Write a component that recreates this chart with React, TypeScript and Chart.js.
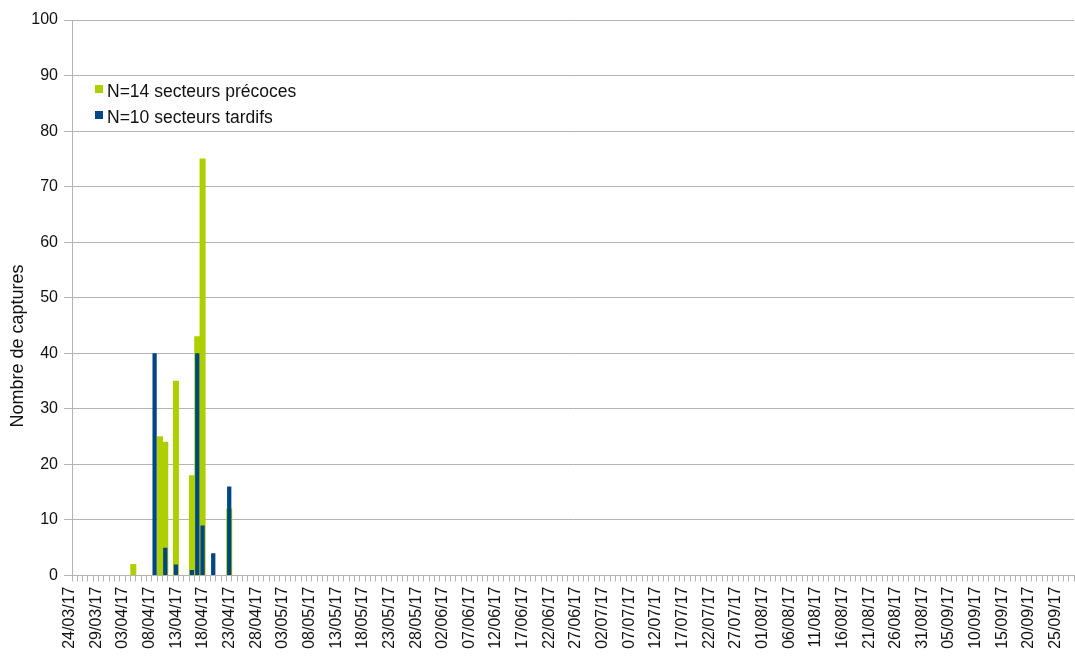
import React, { useEffect, useRef } from 'react';
import { Chart, registerables } from 'chart.js';

Chart.register(...registerables);

// ---- Data ----
const startDate = [2017, 3, 24]; // 24/03/17
const dayCount = 188; // 24/03/17 .. 27/09/17
const labelStep = 5;

const seriesNames = ['N=14 secteurs précoces', 'N=10 secteurs tardifs'];
const seriesColors = ['#aecf00', '#004586'];

const precocesDates = ['04/04/17', '09/04/17', '10/04/17', '12/04/17', '15/04/17', '16/04/17', '17/04/17', '22/04/17'];
const precocesValues = [2, 25, 24, 35, 18, 43, 75, 12];

const tardifsDates = ['08/04/17', '10/04/17', '12/04/17', '15/04/17', '16/04/17', '17/04/17', '19/04/17', '22/04/17'];
const tardifsValues = [40, 5, 2, 1, 40, 9, 4, 16];

const yMin = 0;
const yMax = 100;
const yStep = 10;
const yTitle = 'Nombre de captures';

// ---- Helpers ----
const pad2 = (n: number) => (n < 10 ? '0' + n : '' + n);
function buildCategories(): string[] {
  const out: string[] = [];
  const base = Date.UTC(startDate[0], startDate[1] - 1, startDate[2]);
  for (let i = 0; i < dayCount; i++) {
    const d = new Date(base + i * 86400000);
    out.push(pad2(d.getUTCDate()) + '/' + pad2(d.getUTCMonth() + 1) + '/' + pad2(d.getUTCFullYear() % 100));
  }
  return out;
}
const categories = buildCategories();

function toSeries(dates: string[], values: number[]): (number | null)[] {
  return categories.map((c) => {
    const k = dates.indexOf(c);
    return k >= 0 ? values[k] : null;
  });
}

const FONT = "'Liberation Sans', Arial, sans-serif";
const GRID = '#b3b3b3';

const legendPlugin = {
  id: 'insideLegend',
  afterDraw(chart: any) {
    const ctx = chart.ctx;
    ctx.save();
    ctx.font = `17.5px ${FONT}`;
    ctx.textBaseline = 'alphabetic';
    ctx.textAlign = 'left';
    const rows = [97, 123];
    chart.data.datasets.forEach((ds: any, i: number) => {
      const y = rows[i];
      ctx.fillStyle = ds.backgroundColor;
      ctx.fillRect(95, y - 12, 8, 8);
      ctx.fillStyle = '#111';
      ctx.fillText(ds.label, 107, y);
    });
    // y axis title
    ctx.translate(18, 346);
    ctx.rotate(-Math.PI / 2);
    ctx.font = `18px ${FONT}`;
    ctx.textAlign = 'center';
    ctx.textBaseline = 'middle';
    ctx.fillStyle = '#111';
    ctx.fillText(yTitle, 0, 0);
    ctx.restore();
  },
};

export default function App() {
  const ref = useRef<HTMLCanvasElement | null>(null);

  useEffect(() => {
    if (!ref.current) return;
    const chart = new Chart(ref.current, {
      type: 'bar',
      data: {
        labels: categories,
        datasets: [
          {
            label: seriesNames[0],
            data: toSeries(precocesDates, precocesValues),
            backgroundColor: seriesColors[0],
            barPercentage: 1,
            categoryPercentage: 1,
            grouped: false,
            order: 2,
          },
          {
            label: seriesNames[1],
            data: toSeries(tardifsDates, tardifsValues),
            backgroundColor: seriesColors[1],
            barPercentage: 0.8,
            categoryPercentage: 1,
            grouped: false,
            order: 1,
          },
        ],
      },
      options: {
        responsive: false,
        animation: false,
        devicePixelRatio: 1,
        layout: { padding: { top: 20, right: 1, left: 0, bottom: 0 } },
        plugins: {
          legend: { display: false },
          tooltip: { enabled: false },
        },
        scales: {
          x: {
            offset: true,
            grid: {
              display: true,
              drawOnChartArea: false,
              drawTicks: true,
              tickLength: 6,
              color: GRID,
              offset: true,
            },
            border: { display: true, color: GRID },
            ticks: {
              autoSkip: false,
              minRotation: 90,
              maxRotation: 90,
              padding: 5,
              labelOffset: -5,
              color: '#111',
              font: { family: FONT, size: 16 },
              callback: (_v: any, i: number) => (i % labelStep === 0 ? categories[i] : ''),
            },
            afterFit: (s: any) => {
              s.height = 664 - 575.5;
              s.paddingLeft = 0;
              s.paddingRight = 0;
            },
          },
          y: {
            min: yMin,
            max: yMax,
            ticks: {
              stepSize: yStep,
              padding: 6,
              color: '#111',
              font: { family: FONT, size: 16 },
            },
            grid: { color: GRID, tickLength: 8, lineWidth: 1 },
            border: { display: true, color: GRID },
            title: { display: false, text: yTitle },
            afterFit: (s: any) => {
              s.width = 72;
              s.paddingTop = 0;
              s.paddingBottom = 0;
            },
          },
        },
      },
      plugins: [legendPlugin],
    } as any);
    return () => chart.destroy();
  }, []);

  return (
    <div style={{ position: 'fixed', left: 0, top: 0, width: 1075, height: 664, background: '#fff' }}>
      <canvas ref={ref} width={1075} height={664} style={{ width: 1075, height: 664, display: 'block' }} />
    </div>
  );
}
